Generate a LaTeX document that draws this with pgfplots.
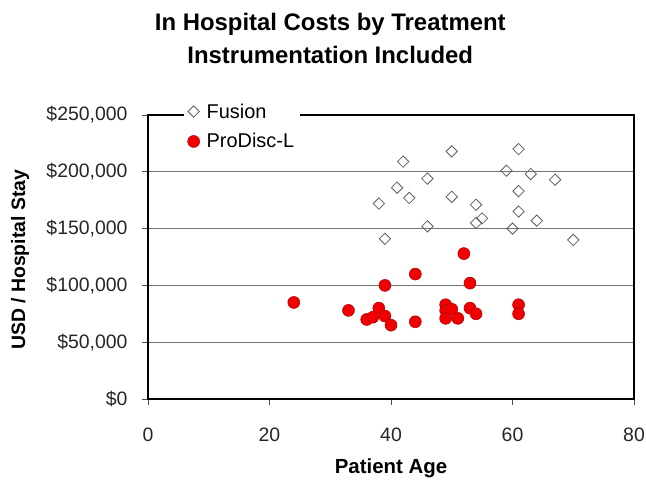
\documentclass[border=0pt]{standalone}
\usepackage{fontspec}
\setmainfont{Liberation Sans}
\usepackage{pgfplots}
\pgfplotsset{compat=1.18}
\usetikzlibrary{calc}
\definecolor{fusgray}{RGB}{95,95,95}
\definecolor{pdred}{RGB}{240,0,0}
\definecolor{pdedge}{RGB}{170,0,0}
\begin{document}
\begin{tikzpicture}
\begin{axis}[
  name=ax,
  scale only axis,
  width=486bp, height=284bp,
  xmin=0, xmax=80, ymin=0, ymax=250000,
  xtick={0,20,40,60,80},
  ytick={0,50000,100000,150000,200000,250000},
  yticklabels={\$0,{\$50,000},{\$100,000},{\$150,000},{\$200,000},{\$250,000}},
  scaled y ticks=false,
  ymajorgrids,
  major grid style={black!55, line width=0.9bp},
  axis line style={line width=1.6bp},
  tick align=outside,
  xtick pos=bottom, ytick pos=left,
  major tick length=6bp,
  tick style={black!70, line width=0.8bp},
  /pgf/number format/assume math mode=true,
  tick label style={font=\fontsize{19.5}{23}\selectfont, text=black!85},
  xticklabel style={yshift=-19bp},
  yticklabel style={xshift=-11bp},
  title={In Hospital Costs by Treatment\\Instrumentation Included},
  title style={font=\bfseries\fontsize{24}{33}\selectfont, align=center, at={(0.375,1)}, anchor=south, yshift=42bp},
  xlabel={Patient Age},
  xlabel style={font=\bfseries\fontsize{20.5}{24}\selectfont, at={(axis description cs:0.5,-0.262)}, anchor=base},
  ylabel={USD / Hospital Stay},
  ylabel style={font=\bfseries\fontsize{19.5}{24}\selectfont, at={(axis description cs:-0.263,0.49)}, anchor=center},
  legend style={at={(axis description cs:0.073,1.055)}, anchor=north west, draw=none, fill=white,
    font=\fontsize{20}{24}\selectfont, row sep=10bp, column sep=5bp, inner xsep=4bp, inner ysep=2bp},
  legend cell align=left,
]
\addplot[only marks, mark=square, mark size=4bp, draw=fusgray, mark options={rotate=45, line width=0.8bp, fill=white}] coordinates {
(42,209000) (50,218000) (61,220000) (59,201000) (63,198000) (67,193000)
(46,194000) (41,186000) (43,177000) (38,172000) (50,178000) (54,171000)
(61,183000) (61,165000) (64,157000) (55,159000) (54,155000) (46,152000)
(60,150000) (39,141000) (70,140000)
};
\addlegendentry{Fusion}
\addplot[only marks, mark=*, mark size=6bp, mark options={fill=pdred, draw=pdedge, line width=0.5bp}] coordinates {
(24,85000) (33,78000) (36,70000) (37,72000) (38,80000) (39,73000) (40,65000)
(39,100000) (44,110000) (44,68000) (52,128000) (53,102000) (49,83000)
(49,78000) (50,79000) (49,71000) (51,71000) (53,80000) (54,75000)
(61,83000) (61,75000)
};
\addlegendentry{ProDisc-L}
\end{axis}
\pgfresetboundingbox
\path[use as bounding box] ($(ax.south west)+(-148bp,-81bp)$) rectangle ($(ax.north east)+(12bp,115bp)$);
\end{tikzpicture}
\end{document}
